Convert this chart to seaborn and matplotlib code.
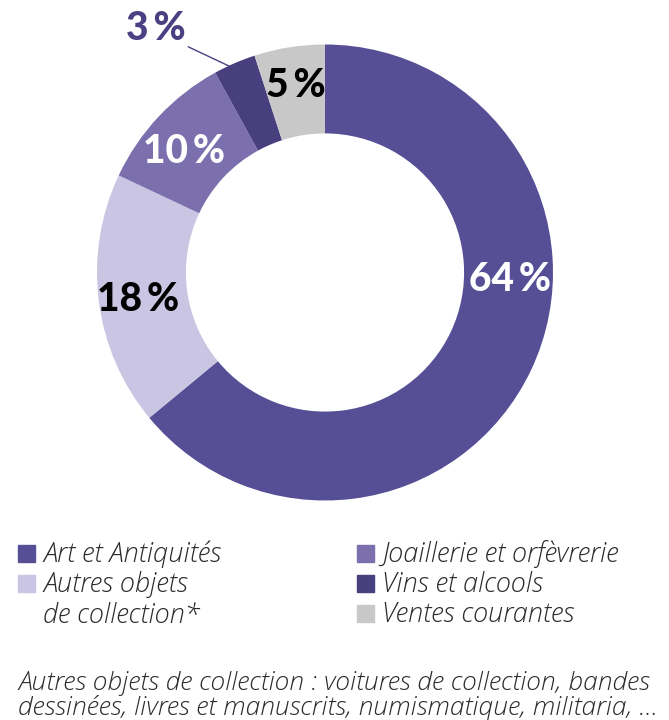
import matplotlib
matplotlib.use("Agg")
import matplotlib.pyplot as plt
import seaborn as sns
from matplotlib.patches import Rectangle

# Data
categories = ["Art et Antiquités", "Autres objets\nde collection*", "Joaillerie et orfèvrerie",
              "Vins et alcools", "Ventes courantes"]
shares = [64, 18, 10, 3, 5]
pct_labels = ["64\u2009%", "18\u2009%", "10\u2009%", "3\u2009%", "5\u2009%"]
colors = ["#574f96", "#c9c5e2", "#7b6fae", "#483f7f", "#c8c8c8"]
footnote = ("Autres objets de collection : voitures de collection, bandes\n"
            "dessinées, livres et manuscrits, numismatique, militaria, ...")

sns.set_style("white")
plt.rcParams['font.family'] = ['Lato', 'DejaVu Sans']

fig = plt.figure(figsize=(6.69, 7.2), dpi=100)
ax = fig.add_axes([97 / 669, (720 - 500.5) / 720, 456 / 669, 456 / 720])

wedges, _ = ax.pie(shares, colors=colors, startangle=90, counterclock=False,
                   radius=1, wedgeprops=dict(width=0.39, linewidth=0))
ax.set_xlim(-1, 1)
ax.set_ylim(-1, 1)
ax.set_aspect("equal")
ax.axis("off")

# percentage labels (positions chosen to match layout)
label_pos = [(0.81, -0.03), (-0.82, -0.12), (-0.62, 0.53), (-0.74, 1.07), (-0.13, 0.82)]
label_col = ["white", "black", "white", "#4a4082", "black"]
for txt, (x, y), c in zip(pct_labels, label_pos, label_col):
    ax.text(x, y, txt, ha="center", va="center", fontsize=28, fontweight="black",
            color=c, clip_on=False)
ax.plot([-0.60, -0.42], [0.99, 0.905], color="#4a4082", lw=1, clip_on=False)

# legend drawn manually
body_font = ['Open Sans', 'DejaVu Sans']
legend_slots = [(18, 553), (18, 583), (357, 553), (357, 583), (357, 613)]
for (px, py), name, c in zip(legend_slots, categories, colors):
    fig.patches.append(Rectangle((px / 669, (720 - py - 8.5) / 720), 17 / 669, 17 / 720,
                                 transform=fig.transFigure, color=c))
    fig.text((px + 25) / 669, (720 - py - 1) / 720 if "\n" not in name else (720 - py + 12) / 720,
             name, ha="left", va="center" if "\n" not in name else "top",
             fontsize=19.5, fontstyle="italic", fontweight="light", color="#2b2b2b",
             linespacing=1.2, family=body_font)

fig.text(18 / 669, (720 - 696) / 720, footnote, ha="left", va="center", fontsize=19,
         fontstyle="italic", fontweight="light", color="#2b2b2b", linespacing=0.95,
         family=body_font)

fig.savefig("out.png", dpi=100)
